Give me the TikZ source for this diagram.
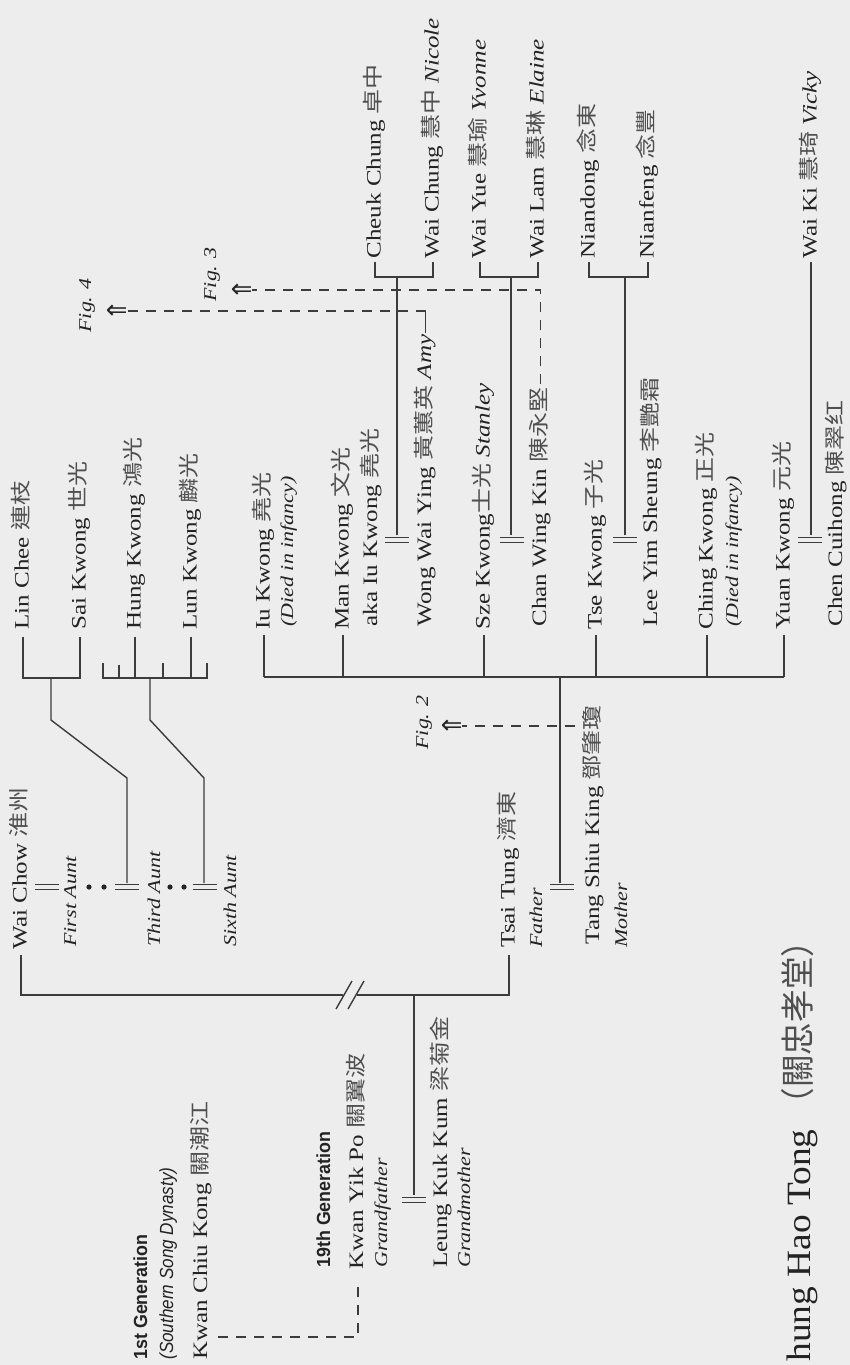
\documentclass[tikz,border=0pt]{standalone}
\usepackage{fontspec}
\usetikzlibrary{calc}
\setmainfont{Liberation Serif}
\newfontfamily\cjkf{Noto Sans CJK TC}
\newfontfamily\sansf{Liberation Sans}
\newfontfamily\symf{DejaVu Sans}
\definecolor{bg}{RGB}{236,237,236}
\definecolor{ink}{RGB}{35,35,35}
\definecolor{lnc}{RGB}{60,60,60}
\newcommand\zh[1]{{\cjkf\color{ink!80}#1}}
\begin{document}
\begin{tikzpicture}[x=0.5pt,y=-0.5pt,
  base/.style={rotate=90, anchor=base west, inner sep=0pt, text=ink},
  nm/.style={base, font=\fontsize{10.25}{12}\selectfont, xscale=1.22},
  it/.style={base, font=\fontsize{9}{11}\selectfont\itshape, xscale=1.22},
  gen/.style={base, font=\fontsize{9.5}{11}\selectfont\sansf\bfseries, xscale=0.94},
  sub/.style={base, font=\fontsize{9.5}{11}\selectfont\sansf\itshape, xscale=0.9},
  ttl/.style={base, font=\fontsize{17}{20}\selectfont, xscale=1.1},
  arr/.style={rotate=90, inner sep=0pt, text=ink, font=\fontsize{13}{13}\selectfont\symf},
  ln/.style={draw=lnc, line width=0.7pt},
  dsh/.style={ln, dash pattern=on 5pt off 4pt},
  mar/.pic={\draw[ln] (-12,-2.5) -- (12,-2.5) (-12,2.5) -- (12,2.5);}
]
\fill[bg] (0,0) rectangle (850,1365);
\useasboundingbox (0,0) rectangle (850,1365);

% ---------- ancestors ----------
\node[gen] (g1) at (147,1360) {1st Generation};
\node[sub] (sd) at (173,1360) {(Southern Song Dynasty)};
\node[nm] (kck) at (207,1360) {Kwan Chiu Kong \zh{關潮江}};
\node[gen] (g19) at (330,1268) {19th Generation};
\node[nm] (kyp) at (363,1270) {Kwan Yik Po \zh{關翼波}};
\node[it] (gf) at (387,1268) {Grandfather};
\pic at (414,1200) {mar};
\node[nm] (lkk) at (447,1268) {Leung Kuk Kum \zh{梁菊金}};
\node[it] (gm) at (470,1268) {Grandmother};
\coordinate (kckE) at (218,1337);
\coordinate (kypS) at (358,1283);
\draw[dsh] (kckE) -- (kckE -| kypS) -- (kypS);

% main line
\coordinate (kypM) at (414,1195);
\coordinate (kypJ) at (414,995);
\coordinate (wcJ) at (21,995);
\coordinate (wcS) at (21,955);
\coordinate (ttJ) at (509,995);
\coordinate (ttS) at (509,955);
\draw[ln] (wcS) -- (wcJ) -- (343,995);
\draw[ln] (357,995) -- (ttJ) -- (ttS);
\draw[ln] (336,1009) -- (352,981) (348,1009) -- (364,981);
\draw[ln] (kypM) -- (kypJ);

% ---------- Wai Chow branch ----------
\node[nm] (wc) at (26.5,950) {Wai Chow \zh{淮州}};
\node[it] (fa) at (76,947) {First Aunt};
\node[it] (ta) at (160,947) {Third Aunt};
\node[it] (sa) at (236,947) {Sixth Aunt};
\pic at (46.5,887) {mar};
\pic at (126.5,887) {mar};
\pic at (204.5,887) {mar};
\foreach \d in {89,104,170,184} \fill[ink] (\d,887) circle (2.6);
\coordinate (m3) at (127,883);
\coordinate (m6) at (204,883);
\coordinate (b1) at (51,678);
\coordinate (b2) at (150,678);
\draw[ln] (m3) -- (127,778) -- (51,720) -- (b1);
\draw[ln] (m6) -- (204,778) -- (150,720) -- (b2);
\draw[ln] (23,637) -- (23,678) -- (80,678) -- (80,637);
\draw[ln] (103,663) -- (103,678) -- (207,678) -- (207,663);
\draw[ln] (119,665) -- (119,678) (135,637) -- (135,678) (163,663) -- (163,678) (191,637) -- (191,678);
\node[nm] (lc) at (28.5,630) {Lin Chee \zh{連枝}};
\node[nm] (sk) at (85.5,630) {Sai Kwong \zh{世光}};
\node[nm] (hk) at (140.5,630) {Hung Kwong \zh{鴻光}};
\node[nm] (lk) at (196.5,630) {Lun Kwong \zh{麟光}};

% ---------- parents ----------
\node[nm] (tt) at (514.5,948) {Tsai Tung \zh{濟東}};
\node[it] (fath) at (542,948) {Father};
\pic at (562,887) {mar};
\node[nm] (tsk) at (599,945) {Tang Shiu King \zh{鄧肇瓊}};
\node[it] (moth) at (627,948) {Mother};
\coordinate (pm) at (560,883);
\coordinate (pj) at (560,677);
\draw[ln] (pm) -- (pj);

% Fig. 2
\node[arr] (a2) at (452,726) {⇑};
\node[it] (f2) at (428,750) {Fig. 2};
\coordinate (f2s) at (575,726);
\draw[dsh] (f2s) -- (a2.south);

% children line
\draw[ln] (264,677) -- (784,677);
\foreach \s in {264,343,484,596,707,784} \draw[ln] (\s,677) -- (\s,635);
\node[nm] (ik) at (269.5,630) {Iu Kwong \zh{堯光}};
\node[it] (d1) at (293,627) {(Died in infancy)};
\node[nm] (mk) at (348.5,630) {Man Kwong \zh{文光}};
\node[nm] (aka) at (377,627) {aka Iu Kwong \zh{堯光}};
\pic at (397,540) {mar};
\node[nm] (wwy) at (431,627) {Wong Wai Ying \zh{黃蕙英} \textit{Amy}};
\node[nm] (szk) at (489.5,630) {Sze Kwong\zh{士光} \textit{Stanley}};
\pic at (512,540) {mar};
\node[nm] (cwk) at (546,627) {Chan Wing Kin \zh{陳永堅}};
\node[nm] (tk) at (601.5,630) {Tse Kwong \zh{子光}};
\pic at (625,540) {mar};
\node[nm] (lys) at (657,627) {Lee Yim Sheung \zh{李艷霜}};
\node[nm] (chk) at (712.5,630) {Ching Kwong \zh{正光}};
\node[it] (d2) at (738,627) {(Died in infancy)};
\node[nm] (yk) at (789.5,630) {Yuan Kwong \zh{元光}};
\pic at (810,540) {mar};
\node[nm] (cch) at (842,627) {Chen Cuihong \zh{陳翠红}};

% lines to grandchildren
\draw[ln] (397,535) -- (397,277);
\draw[ln] (511,535) -- (511,277);
\draw[ln] (625,535) -- (625,277);
\draw[ln] (811,535) -- (811,262);
\draw[ln] (375,262) -- (375,277) -- (433,277) -- (433,262);
\draw[ln] (480,262) -- (480,277) -- (538,277) -- (538,262);
\draw[ln] (589,262) -- (589,277) -- (648,277) -- (648,262);
\node[nm] (cc) at (380.5,259) {Cheuk Chung \zh{卓中}};
\node[nm] (wch) at (438.5,259) {Wai Chung \zh{慧中} \textit{Nicole}};
\node[nm] (wy) at (485.5,259) {Wai Yue \zh{慧瑜} \textit{Yvonne}};
\node[nm] (wl) at (543.5,259) {Wai Lam \zh{慧琳} \textit{Elaine}};
\node[nm] (nd) at (594.5,259) {Niandong \zh{念東}};
\node[nm] (nf) at (653.5,259) {Nianfeng \zh{念豐}};
\node[nm] (wk) at (816.5,259) {Wai Ki \zh{慧琦} \textit{Vicky}};

% Fig. 4 and Fig. 3
\node[arr] (a4) at (117,311) {⇑};
\node[it] (f4) at (91,333) {Fig. 4};
\coordinate (wwyE) at ($(wwy.base east)+(-5.5,-1)$);
\draw[ln] (wwyE) -- (wwyE |- a4);
\draw[dsh] (wwyE |- a4) -- (a4.south);

\node[arr] (a3) at (242,290) {⇑};
\node[it] (f3) at (216,302) {Fig. 3};
\coordinate (cwkE) at ($(cwk.base east)+(-5.5,-3)$);
\draw[dsh] (cwkE) -- (cwkE |- a3) -- (a3.south);

% title
\node[ttl] (title) at (810,1362) {hung Hao Tong \scalebox{0.87}[1]{\zh{（關忠孝堂）}}};
\end{tikzpicture}
\end{document}
